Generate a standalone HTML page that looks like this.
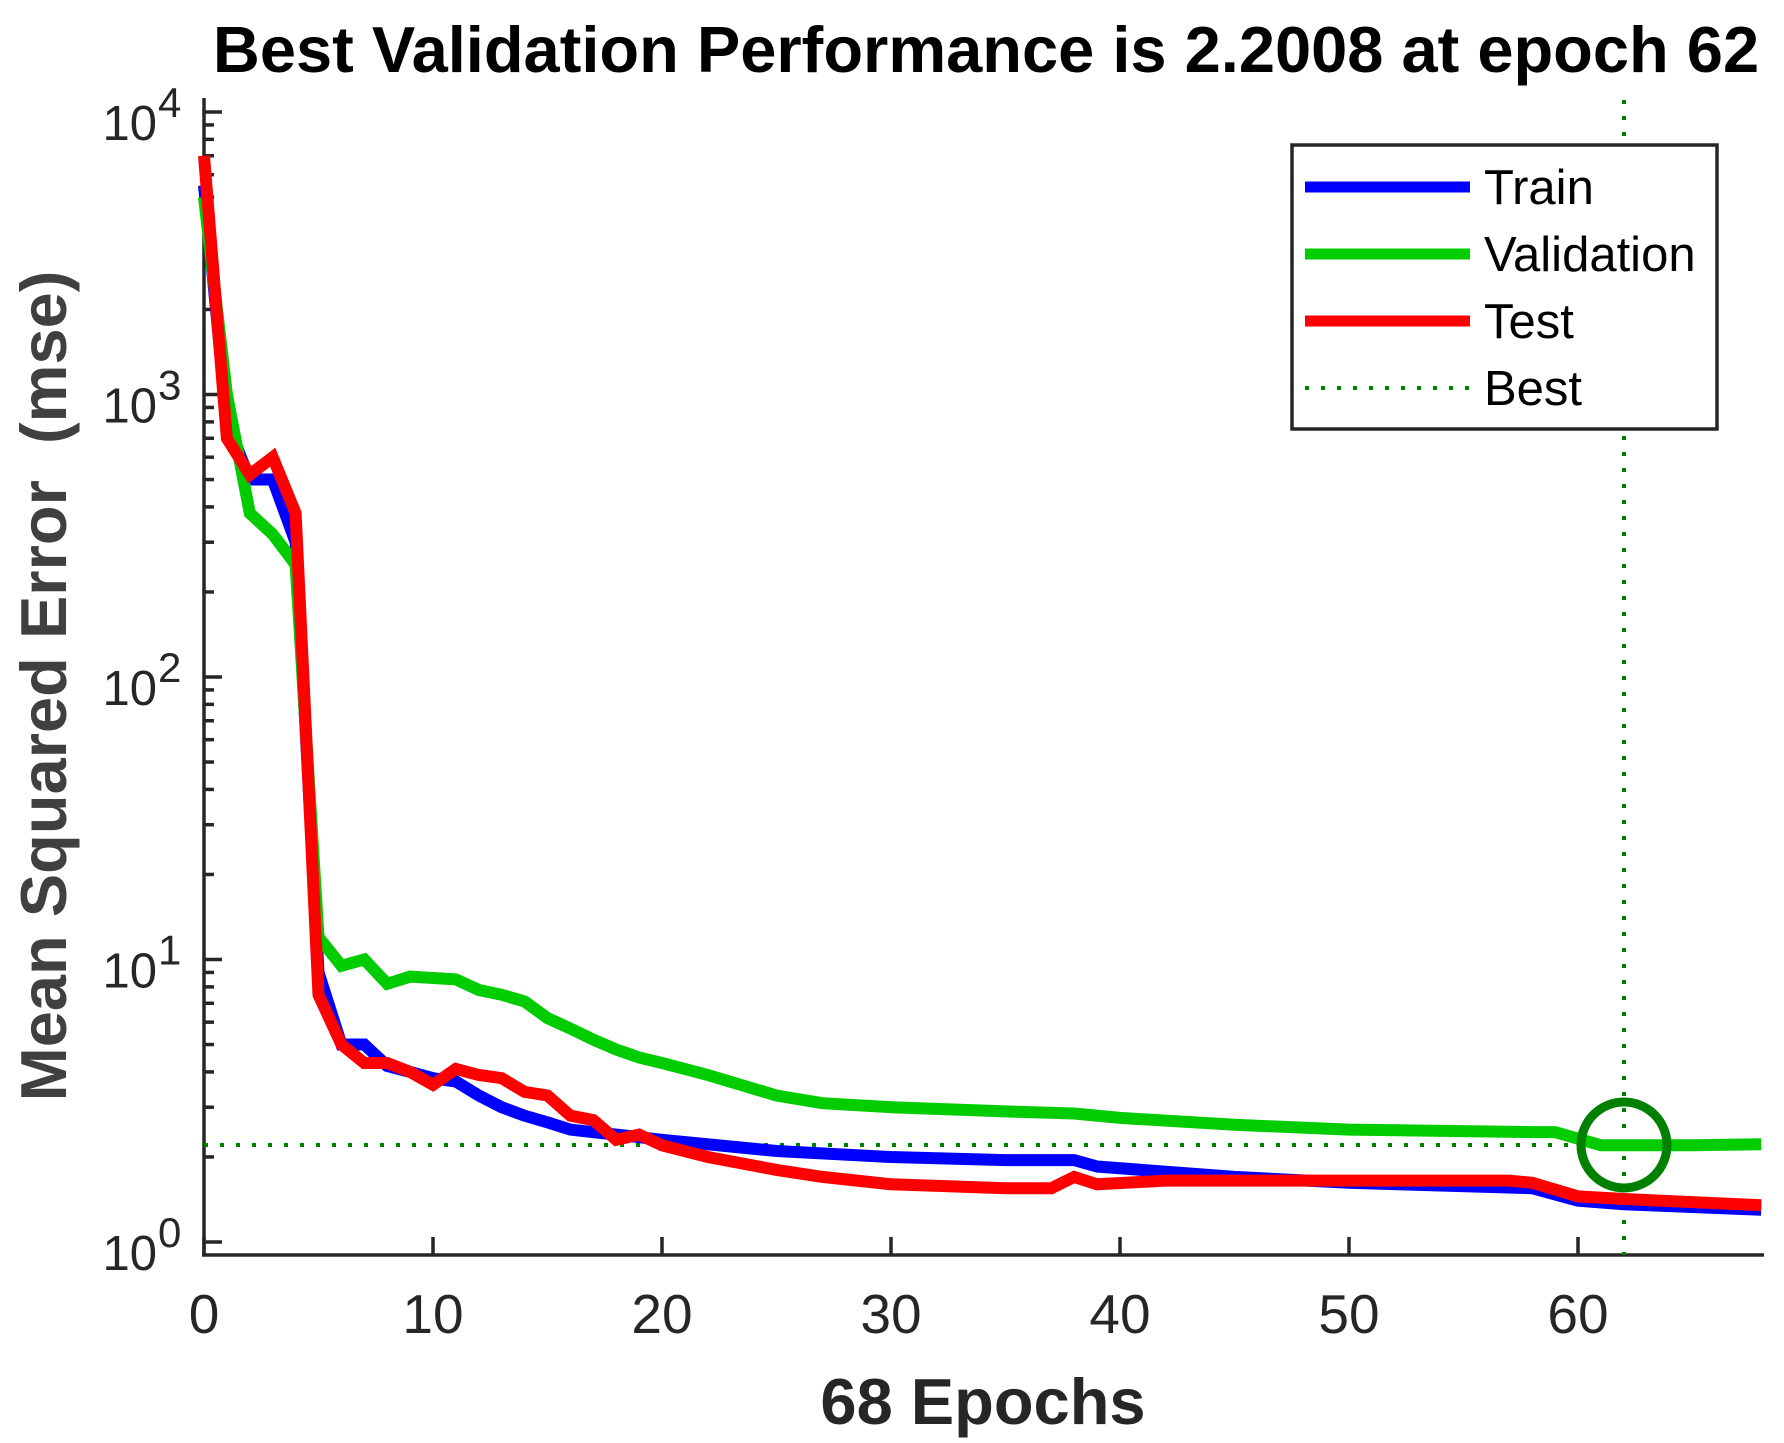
<!DOCTYPE html>
<html><head><meta charset="utf-8"><style>
html,body{margin:0;padding:0;background:#fff;}
svg{display:block;font-family:"Liberation Sans",Arial,sans-serif;}
</style></head><body>
<svg id="s" width="1784" height="1443" viewBox="0 0 1784 1443" xmlns="http://www.w3.org/2000/svg">
<rect width="1784" height="1443" fill="#fff"/>
<text x="986" y="72" text-anchor="middle" font-size="65" font-weight="bold" fill="#000">Best Validation Performance is 2.2008 at epoch 62</text>
<text x="983" y="1424" text-anchor="middle" font-size="65" font-weight="bold" fill="#262626">68 Epochs</text>
<text transform="translate(66,686) rotate(-90)" text-anchor="middle" font-size="65" font-weight="bold" fill="#404040" style="white-space:pre">Mean Squared Error  (mse)</text>
<g id="g"></g>
</svg>
<script>
var X0=204,SX=22.9,Y0=1242,D=282.5;
function px(e){return X0+e*SX}
function py(v){return Y0-Math.log10(v)*D}
var g=document.getElementById('g'),h='';
for(var d=0;d<=4;d++){var y=py(Math.pow(10,d));h+='<line x1="204" x2="222" y1="'+y+'" y2="'+y+'" stroke="#262626" stroke-width="3.5"/>';
h+='<text x="157" y="'+(y+28)+'" text-anchor="end" font-size="49" fill="#262626">10</text><text x="158" y="'+(y+5)+'" font-size="42" fill="#262626">'+d+'</text>';
if(d<4)for(var m=2;m<=9;m++){var yy=py(m*Math.pow(10,d));h+='<line x1="204" x2="214" y1="'+yy+'" y2="'+yy+'" stroke="#262626" stroke-width="3.5"/>';}}
for(var e=0;e<=60;e+=10){var x=px(e);h+='<line x1="'+x+'" x2="'+x+'" y1="1255" y2="1237" stroke="#262626" stroke-width="3.5"/><text x="'+x+'" y="1333" text-anchor="middle" font-size="55" fill="#262626">'+e+'</text>';}
h+='<line x1="204" x2="204" y1="98" y2="1256" stroke="#262626" stroke-width="3.5"/><line x1="202" x2="1764" y1="1255" y2="1255" stroke="#262626" stroke-width="3.5"/>';
h+='<line x1="204" x2="1763" y1="1145" y2="1145" stroke="#008000" stroke-width="4" stroke-dasharray="4,12"/>';
h+='<line x1="1624" x2="1624" y1="100" y2="1255" stroke="#008000" stroke-width="4" stroke-dasharray="4,12"/>';
function line(pts,c){var s='';for(var i=0;i<pts.length;i+=2)s+=px(pts[i]).toFixed(1)+','+py(pts[i+1]).toFixed(1)+' ';return '<polyline points="'+s+'" fill="none" stroke="'+c+'" stroke-width="12" stroke-linejoin="miter"/>';}
var tr=[0,5500,1,800,2,500,3,500,4,300,5,9,6,5,7,5,8,4.2,9,4,10,3.8,11,3.7,12,3.3,13,3.0,14,2.8,15,2.65,16,2.5,17,2.45,18,2.4,20,2.3,25,2.1,30,2.0,35,1.95,38,1.95,39,1.85,45,1.7,50,1.62,58,1.55,60,1.4,62,1.36,68,1.3];
var va=[0,5000,1,1000,2,380,3,320,4,250,5,12,6,9.5,7,10,8,8.2,9,8.7,10,8.6,11,8.5,12,7.8,13,7.5,14,7.1,15,6.2,16,5.7,17,5.2,18,4.8,19,4.5,20,4.3,22,3.9,25,3.3,27,3.1,30,3.0,35,2.9,38,2.85,40,2.75,45,2.6,50,2.5,58,2.45,59,2.45,61,2.2,62,2.2,65,2.2,68,2.22];
var te=[0,7000,1,700,2,520,3,600,4,380,5,7.5,6,5,7,4.3,8,4.3,9,4,10,3.6,11,4.1,12,3.9,13,3.8,14,3.4,15,3.3,16,2.8,17,2.7,18,2.3,19,2.4,20,2.2,22,2.0,25,1.8,27,1.7,30,1.6,35,1.55,37,1.55,38,1.7,39,1.6,42,1.65,50,1.65,57,1.65,58,1.62,60,1.45,62,1.42,68,1.35];
h+='<svg x="0" y="0" width="1766" height="1443" overflow="hidden">'+line(tr,'#0000ff')+line(va,'#00cc00')+line(te,'#ff0000')+'</svg>';
h+='<circle cx="1624" cy="1145" r="43" fill="none" stroke="#008000" stroke-width="9"/>';
h+='<rect x="1292" y="145" width="425" height="284" fill="#fff" stroke="#262626" stroke-width="3.5"/>';
var L=[['Train','#0000ff',187],['Validation','#00cc00',254],['Test','#ff0000',321]];
L.forEach(function(l){h+='<line x1="1305" x2="1470" y1="'+l[2]+'" y2="'+l[2]+'" stroke="'+l[1]+'" stroke-width="11"/><text x="1484" y="'+(l[2]+17)+'" font-size="49" fill="#000">'+l[0]+'</text>';});
h+='<line x1="1305" x2="1470" y1="388" y2="388" stroke="#008000" stroke-width="4" stroke-dasharray="4,12"/><text x="1484" y="405" font-size="49" fill="#000">Best</text>';
g.innerHTML=h;
</script>
</body></html>
